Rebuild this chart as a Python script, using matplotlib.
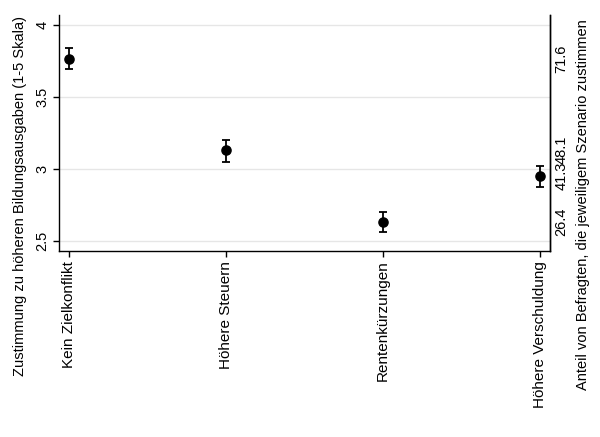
import matplotlib
matplotlib.use("Agg")
import matplotlib.pyplot as plt
import numpy as np

categories = ["Kein Zielkonflikt", "Höhere Steuern", "Rentenkürzungen", "Höhere Verschuldung"]
means = [3.764, 3.13, 2.632, 2.951]
ci_low = [3.694, 3.05, 2.56, 2.875]
ci_high = [3.84, 3.20, 2.70, 3.02]
share_labels = ["71.6", "48.1", "26.4", "41.3"]
yticks = [2.5, 3, 3.5, 4]
yticklabels = ["2.5", "3", "3.5", "4"]

plt.rcParams['font.family'] = ['Liberation Sans', 'DejaVu Sans']
fs = 10.5

fig = plt.figure(figsize=(6.0, 4.37), dpi=100)
ax = fig.add_axes([59/600, 1-251/437, (550-59)/600, (251-15)/437])

x = np.arange(len(categories))
m = np.array(means)
lo = m - np.array(ci_low)
hi = np.array(ci_high) - m
ax.errorbar(x, m, yerr=[lo, hi], fmt='o', color='black', ms=6.6,
            elinewidth=1.3, capsize=2.6, capthick=1.3, zorder=3)

ax.set_xlim(-0.064, 3.064)
ax.set_ylim(2.43, 4.07)
ax.set_yticks(yticks)
ax.set_yticklabels(yticklabels, rotation=90, va='center', fontsize=fs)
ax.set_xticks(x)
ax.set_xticklabels(categories, rotation=90, fontsize=11)
ax.tick_params(axis='both', length=4, width=1, color='black', pad=3)
ax.grid(axis='y', color='#e6e6e6', linewidth=1)
ax.set_axisbelow(True)
for s in ['left', 'bottom', 'right']:
    ax.spines[s].set_linewidth(1)
    ax.spines[s].set_color('black')
ax.spines['top'].set_visible(False)

ax2 = ax.twinx()
ax2.set_ylim(ax.get_ylim())
ax2.set_yticks(means)
ax2.set_yticklabels(share_labels, rotation=90, va='center', fontsize=fs)
ax2.tick_params(axis='y', length=0, pad=3)
ax2.spines['top'].set_visible(False)
ax2.spines['left'].set_visible(False)
ax2.spines['bottom'].set_visible(False)
ax2.spines['right'].set_linewidth(1)

fig.text(20/600, 1-196/437, "Zustimmung zu höheren Bildungsausgaben (1-5 Skala)",
         rotation=90, ha='center', va='center', fontsize=fs)
fig.text(583/600, 1-205/437, "Anteil von Befragten, die jeweiligem Szenario zustimmen",
         rotation=90, ha='center', va='center', fontsize=fs)

fig.savefig("out.png", dpi=100, facecolor='white')
